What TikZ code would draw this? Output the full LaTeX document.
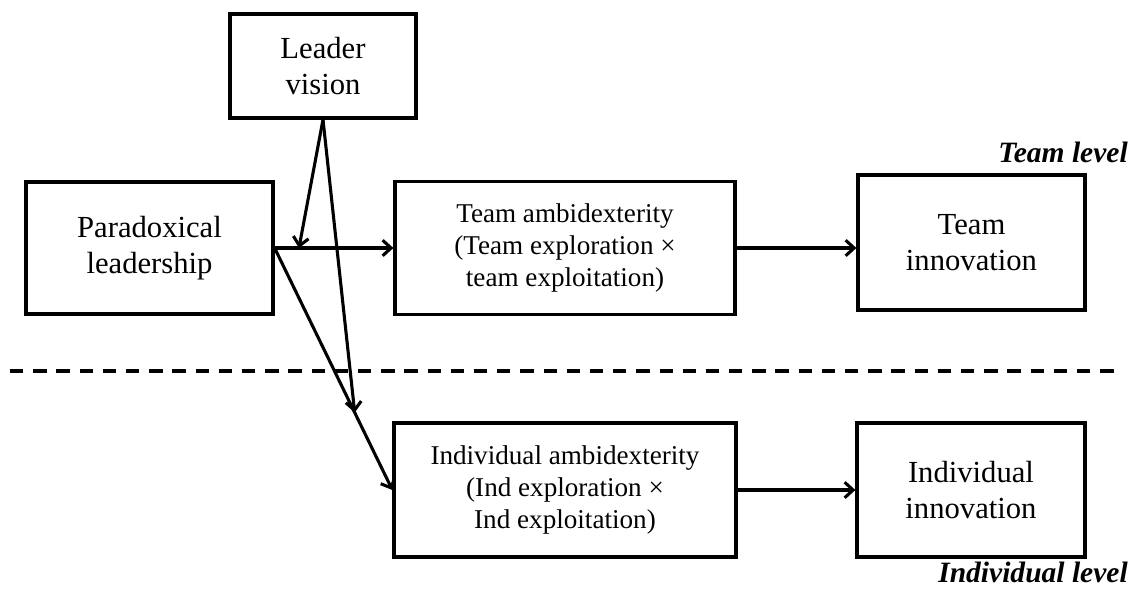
\documentclass[tikz,border=0pt]{standalone}
\usepackage{fontspec}
\setmainfont{Liberation Serif}
\usetikzlibrary{positioning,arrows.meta,calc}
\tikzset{
  varnode/.style={draw=black,line width=2.3pt,fill=white,
    font=\fontsize{21.8}{25.5}\selectfont,
    align=center,inner sep=2pt},
  ambnode/.style={varnode,font=\fontsize{19.3}{22.8}\selectfont},
  lvltext/.style={font=\fontsize{21}{24}\selectfont\bfseries\itshape,inner sep=0pt},
  edgeA/.style={line width=2.2pt,-{Straight Barb[length=6pt,width=11pt,line width=2.2pt]}},
  sepline/.style={line width=2.5pt,dash pattern=on 9.5pt off 7pt},
}
\begin{document}
\begin{tikzpicture}
  \useasboundingbox (0,0) rectangle (28.45,-14.75);
  % variables
  \node[varnode,minimum width=4.65cm,minimum height=2.6cm] (lv) at (8.075,-1.65) {Leader\\vision};
  \node[varnode,minimum width=6.175cm,minimum height=3.3cm] (pl) at (3.7375,-6.2) {Paradoxical\\leadership};
  \node[ambnode,minimum width=8.5cm,minimum height=3.325cm] (ta) at (14.125,-6.2) {Team ambidexterity\\(Team exploration ×\\team exploitation)};
  \node[varnode,minimum width=5.675cm,minimum height=3.375cm] (ti) at (24.2875,-6.0625) {Team\\innovation};
  \node[ambnode,minimum width=8.55cm,minimum height=3.35cm] (ia) at (14.125,-12.25) {Individual ambidexterity\\(Ind exploration ×\\Ind exploitation)};
  \node[varnode,minimum width=5.7cm,minimum height=3.35cm] (ii) at (24.275,-12.25) {Individual\\innovation};
  % level labels
  \node[lvltext,anchor=base east] (tl) at (28.2,-4.05) {Team level};
  \node[lvltext,anchor=base east] (il) at (28.2,-14.55) {Individual level};
  % level separator
  \coordinate (sl) at (0.25,-9.275);
  \coordinate (sr) at (27.95,-9.275);
  \draw[sepline] (sl) -- (sr);
  % moderation points
  \coordinate (m1) at ($(pl.east)!0.205!(ta.west)$);
  \coordinate (m2) at ($(pl.east)!0.68!(ia.west)$);
  % paths
  \draw[edgeA] (pl.east) -- (ta.west);
  \draw[edgeA] (pl.east) -- (ia.west);
  \draw[edgeA] (ta.east) -- (ta.east -| ti.west);
  \draw[edgeA] (ia.east) -- (ii.west);
  \draw[edgeA] (lv.south) -- (m1);
  \draw[edgeA] (lv.south) -- (m2);
\end{tikzpicture}
\end{document}
